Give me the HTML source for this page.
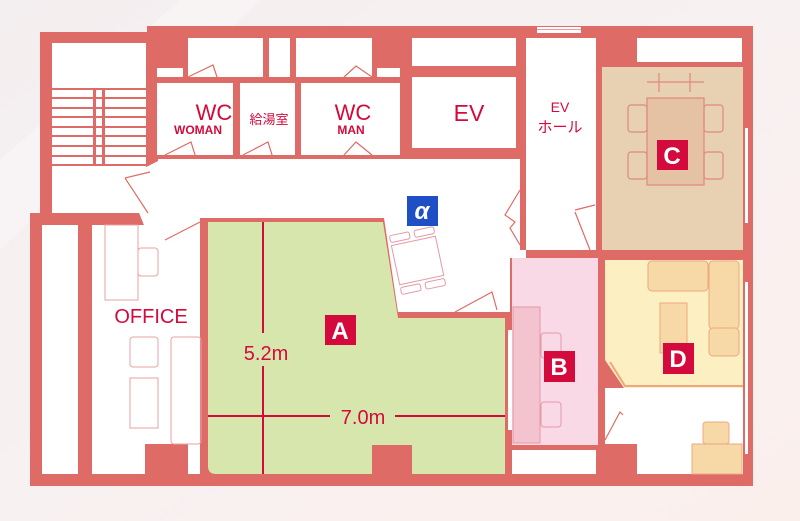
<!DOCTYPE html>
<html><head><meta charset="utf-8"><style>
html,body{margin:0;padding:0;width:800px;height:521px;overflow:hidden;background:#f7eeee}
svg{display:block}
text{font-family:"Liberation Sans","Noto Sans CJK JP",sans-serif}
</style></head><body>
<svg width="800" height="521" viewBox="0 0 800 521" xmlns="http://www.w3.org/2000/svg">
<defs>
<linearGradient id="bg" x1="0" y1="0" x2="1" y2="1">
<stop offset="0" stop-color="#f3eeef"/><stop offset="0.5" stop-color="#f8f1f1"/><stop offset="1" stop-color="#fbefec"/>
</linearGradient>
</defs>
<rect width="800" height="521" fill="url(#bg)"/>
<polygon points="0,160 180,0 260,0 0,250" fill="#f9f6f7" opacity="0.7"/>
<polygon points="40,32 147,32 147,26 753,26 753,486 30,486 30,213 40,213" fill="#df6b66"/>
<rect x="537" y="27" width="44" height="6" fill="#fff"/>
<rect x="537" y="29" width="44" height="1" fill="#e99"/>
<rect x="52" y="43" width="94" height="170" fill="#fff"/>
<g fill="#df6b66">
<rect x="52" y="88" width="94" height="2"/><rect x="52" y="97" width="94" height="2"/><rect x="52" y="107" width="94" height="2"/><rect x="52" y="116" width="94" height="2"/><rect x="52" y="126" width="94" height="2"/><rect x="52" y="135" width="94" height="2"/><rect x="52" y="145" width="94" height="2"/><rect x="52" y="155" width="94" height="2"/><rect x="52" y="164" width="94" height="2"/>
<rect x="93" y="88" width="3" height="78"/><rect x="102" y="88" width="3" height="78"/>
</g>
<g fill="#fff">
<rect x="188" y="38" width="75" height="39"/><rect x="269" y="38" width="21" height="39"/><rect x="296" y="38" width="76" height="39"/>
<rect x="157" y="68" width="26" height="9"/><rect x="377" y="68" width="23" height="9"/>
<rect x="412" y="38" width="104" height="28"/>
<rect x="637" y="38" width="105" height="24"/>
<rect x="157" y="83" width="76" height="72"/><rect x="240" y="83" width="55" height="72"/><rect x="301" y="83" width="99" height="72"/>
<rect x="412" y="77" width="104" height="71"/>
<rect x="526" y="38" width="70" height="212"/>
<polygon points="158,159 520,159 520,250 526,250 526,258 510,258 510,312 398,312 384,218 200,218 200,228 160,228"/>
<polygon points="125,178 160,160 165,225 150,240"/>
<rect x="42" y="225" width="36" height="249"/>
<polygon points="92,225 200,225 200,474 92,474"/>
<rect x="512" y="450" width="84" height="24"/>
<rect x="605" y="388" width="138" height="86"/>
</g>
<g fill="none" stroke="#df6b66" stroke-width="1.2">
<path d="M188,77 L213,65 L218,80"/><path d="M344,77 L356,66 L372,77"/>
<path d="M165,155 L191,142 L196,158"/><path d="M243,155 L268,142 L273,158"/><path d="M344,155 L356,142 L372,155"/>
<path d="M125,178 L150,172 M125,178 L148,213"/><path d="M165,240 L200,222"/>
<path d="M520,190 L505,215 L515,222 L510,228 L520,245"/>
<path d="M575,210 L595,205 M575,212 L590,250"/>
<path d="M455,312 L492,292 L497,310"/>
<path d="M605,265 L620,292 L623,290"/><path d="M605,440 L620,412 L623,415"/>
</g>
<path d="M208,222 L383,222 L398,318 L505,318 L505,474 L216,474 Q208,474 208,466 Z" fill="#d7e6ad"/>
<rect x="372" y="445" width="40" height="29" fill="#df6b66"/>
<rect x="145" y="444" width="43" height="30" fill="#df6b66"/>
<rect x="597" y="444" width="40" height="30" fill="#df6b66"/>
<rect x="602" y="67" width="141" height="183" fill="#e8d0b2"/>
<g fill="none" stroke="#df8a7a" stroke-width="1.2">
<rect x="647" y="98" width="57" height="87" fill="#e5c2a4"/>
<path d="M647,82 H704 M659,73 V92 M690,73 V92"/>
<rect x="628" y="105" width="19" height="27" rx="3"/><rect x="628" y="152" width="19" height="27" rx="3"/>
<rect x="704" y="105" width="19" height="27" rx="3"/><rect x="704" y="152" width="19" height="27" rx="3"/>
</g>
<rect x="745" y="128" width="3" height="95" fill="#fff"/>
<rect x="512" y="258" width="86" height="187" fill="#f9d9e6"/>
<rect x="513" y="307" width="27" height="136" fill="#f4c3d0" stroke="#e59aa8"/>
<g fill="none" stroke="#e59aa8"><rect x="541" y="333" width="20" height="25" rx="3"/><rect x="541" y="402" width="20" height="25" rx="3"/></g>
<rect x="508" y="330" width="4" height="100" fill="#fff"/>
<polygon points="605,260 743,260 743,388 624,388 605,360" fill="#fcefc2"/>
<g fill="#f7d9a7" stroke="#eea87c" stroke-width="1">
<rect x="648" y="261" width="60" height="30" rx="4"/><rect x="709" y="261" width="30" height="68" rx="4"/><rect x="709" y="328" width="30" height="28" rx="4"/>
<rect x="660" y="303" width="27" height="50"/>
<rect x="692" y="444" width="50" height="30"/><rect x="703" y="422" width="26" height="22" rx="3"/>
</g>
<path d="M610,362 L625,386 H743" fill="none" stroke="#eea87c" stroke-width="2"/>
<rect x="745" y="282" width="3" height="172" fill="#fff"/>
<g fill="#fff" stroke="#e59aa8" stroke-width="1" transform="rotate(-12 420 260)">
<rect x="395" y="240" width="45" height="40"/>
<rect x="395" y="230" width="20" height="7" rx="2"/><rect x="420" y="230" width="20" height="7" rx="2"/>
<rect x="395" y="283" width="20" height="7" rx="2"/><rect x="420" y="283" width="20" height="7" rx="2"/>
</g>
<g fill="none" stroke="#eaa0a0" stroke-width="1">
<rect x="105" y="225" width="33" height="75"/><rect x="138" y="248" width="20" height="28" rx="3"/>
<rect x="130" y="337" width="28" height="30" rx="3"/><rect x="130" y="378" width="28" height="50"/>
<rect x="171" y="337" width="30" height="107" rx="3"/>
</g>
<g stroke="#d40a3c" stroke-width="2">
<line x1="263" y1="222" x2="263" y2="333"/><line x1="263" y1="366" x2="263" y2="474"/>
<line x1="208" y1="416" x2="330" y2="416"/><line x1="395" y1="416" x2="505" y2="416"/>
</g>
<g fill="#d40a3c" text-anchor="middle">
<text x="214" y="120" font-size="22">WC</text>
<text x="198" y="134" font-size="12" font-weight="bold">WOMAN</text>
<text x="269" y="124" font-size="13">給湯室</text>
<text x="353" y="120" font-size="22">WC</text>
<text x="351" y="134" font-size="12" font-weight="bold">MAN</text>
<text x="469" y="121" font-size="23">EV</text>
<text x="560" y="112" font-size="14">EV</text>
<text x="560" y="132" font-size="15">ホール</text>
<text x="151" y="323" font-size="20">OFFICE</text>
<text x="266" y="360" font-size="20">5.2m</text>
<text x="363" y="424" font-size="20">7.0m</text>
</g>
<rect x="407" y="196" width="31" height="30" fill="#1f4fc4"/>
<text x="422" y="219" font-size="24" font-style="italic" font-weight="bold" fill="#fff" text-anchor="middle" font-family="Liberation Serif,serif">α</text>
<g font-size="24" font-weight="bold" fill="#fff" text-anchor="middle">
<rect x="657" y="140" width="31" height="30" fill="#d40a3c"/><text x="672" y="164">C</text>
<rect x="325" y="315" width="31" height="30" fill="#d40a3c"/><text x="340" y="339">A</text>
<rect x="544" y="351" width="31" height="31" fill="#d40a3c"/><text x="559" y="375">B</text>
<rect x="663" y="343" width="31" height="31" fill="#d40a3c"/><text x="678" y="367">D</text>
</g>
</svg>
</body></html>
